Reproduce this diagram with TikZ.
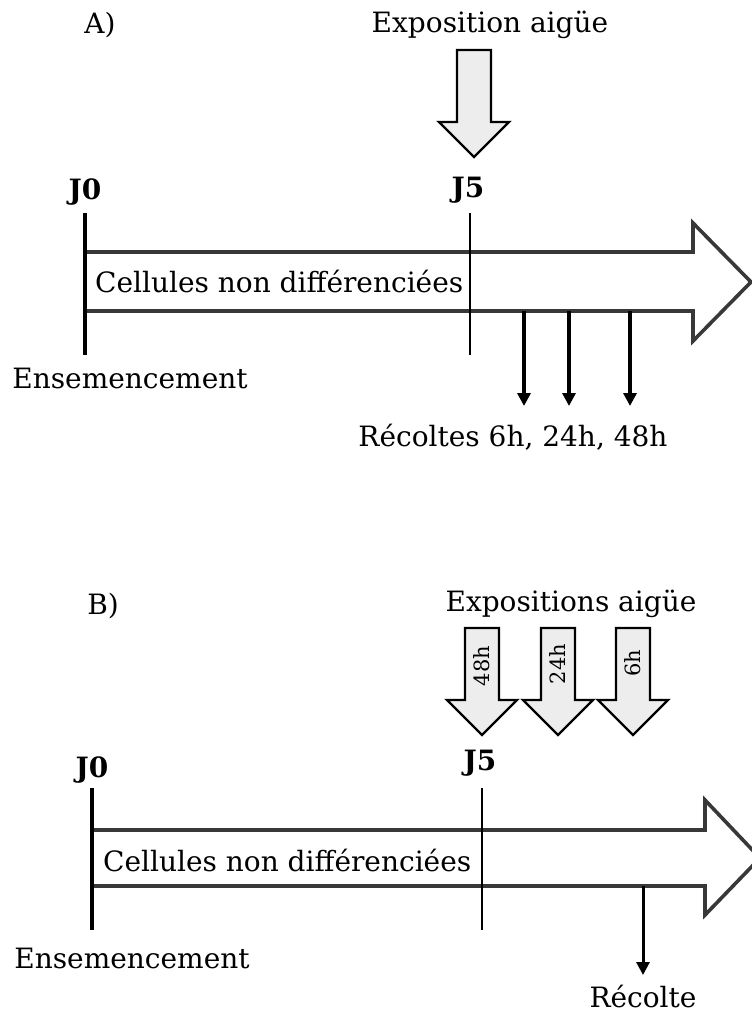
\documentclass[tikz,border=0pt]{standalone}
\usepackage{fontspec}
\setmainfont{DejaVu Serif}
\usetikzlibrary{arrows.meta}

\begin{document}
\begin{tikzpicture}[x=1pt,y=-1pt,>={Triangle[length=13pt,width=13pt]},
 every node/.style={font=\fontsize{28}{32}\selectfont,inner sep=0pt},
 small/.style={font=\fontsize{21}{24}\selectfont},
 tick/.style={line width=3.8pt},
 band/.style={draw=black!78,fill=white,line width=3.6pt},
 harvest/.style={->,line width=3.6pt},
 expo/.pic={\draw[line width=2.4pt,fill=black!7]
   (-17,0)--(17,0)--(17,72)--(35,72)--(0,107)--(-35,72)--(-17,72)--cycle;}]
\useasboundingbox (0,0) rectangle (752,1012);

% A) exposition aigue
\node (lblA) at (100,25) {A)};
\node (expA) at (490,25) {Exposition aigüe};
\pic at (474,50) {expo};
\draw[band] (85,252)--(693,252)--(693,223)--(751,282)--(693,341)--(693,311)--(85,311);
\node (cellA) [anchor=west] at (95,281) {Cellules non différenciées};
\node (j0A) at (85,192) {\textbf{J0}};
\node (j5A) at (468,190) {\textbf{J5}};
\coordinate (j0Atop) at (85,213);  \coordinate (j0Abot) at (85,355);
\coordinate (j5Atop) at (470,213); \coordinate (j5Abot) at (470,355);
\draw[tick] (j0Atop)--(j0Abot);
\draw[tick,line width=2.6pt] (j5Atop)--(j5Abot);
\node (ensA) at (130,378) {Ensemencement};
\node (recA) at (513,437) {Récoltes 6h, 24h, 48h};
\foreach \x in {524,569,630}{\coordinate (hA\x) at (\x,311);
 \draw[harvest] (hA\x)--++(0,95);}

% B) expositions aigue
\node (lblB) at (103,606) {B)};
\node (expB) at (571,604) {Expositions aigüe};
\pic at (482,628) {expo};
\pic at (558,628) {expo};
\pic at (633,628) {expo};
\node (t48) [small,rotate=90] at (482,666) {48h};
\node (t24) [small,rotate=90] at (558,664) {24h};
\node (t6)  [small,rotate=90] at (633,663) {6h};
\draw[band] (92,830)--(705,830)--(705,800)--(760,858)--(705,915)--(705,886)--(92,886);
\node (cellB) [anchor=west] at (103,860) {Cellules non différenciées};
\node (j0B) at (92,770) {\textbf{J0}};
\node (j5B) at (480,763) {\textbf{J5}};
\coordinate (j0Btop) at (92,788);  \coordinate (j0Bbot) at (92,930);
\coordinate (j5Btop) at (482,788); \coordinate (j5Bbot) at (482,930);
\draw[tick] (j0Btop)--(j0Bbot);
\draw[tick,line width=2.6pt] (j5Btop)--(j5Bbot);
\node (ensB) at (132,958) {Ensemencement};
\node (recB) at (643,996) {Récolte};
\coordinate (hB) at (643,886);
\draw[harvest,line width=3pt] (hB)--++(0,89);
\end{tikzpicture}
\end{document}
